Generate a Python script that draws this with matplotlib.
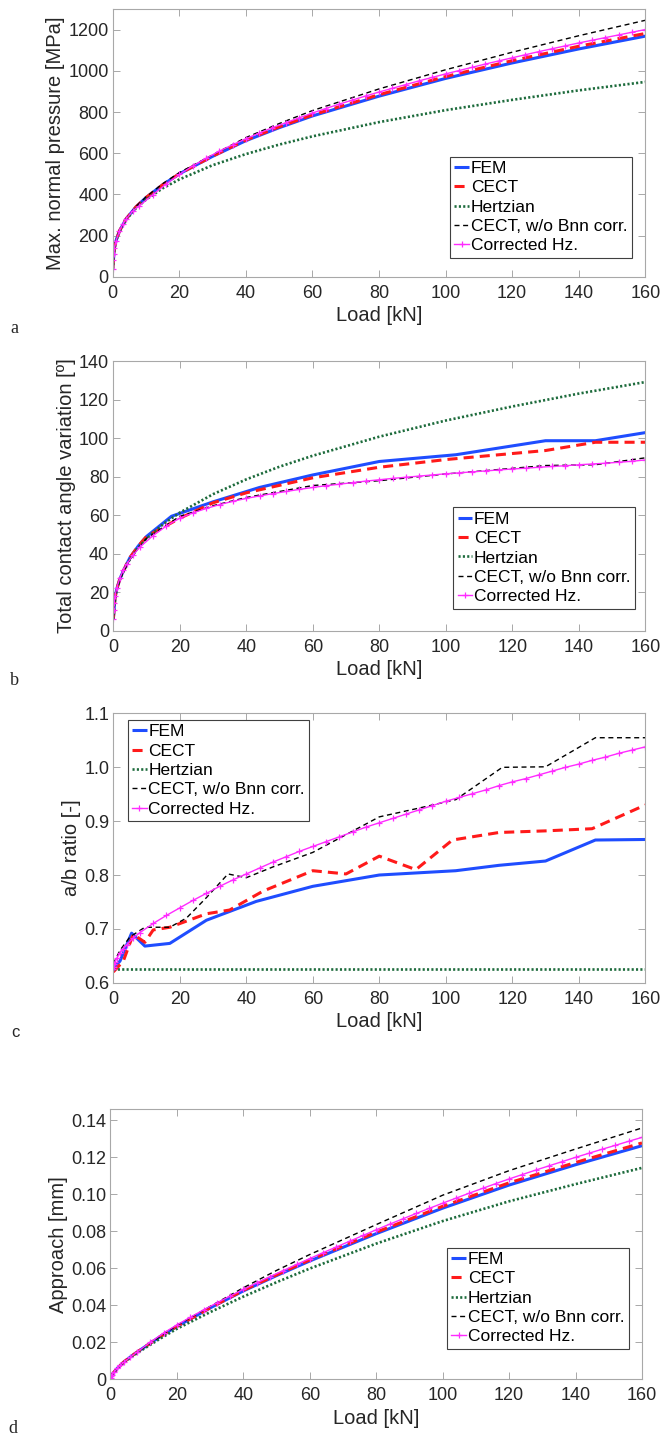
import matplotlib
matplotlib.use("Agg")
import matplotlib.pyplot as plt
from matplotlib.ticker import FixedLocator, FixedFormatter

# ---------------- data ----------------
LABELS = ["FEM", "CECT", "Hertzian", "CECT, w/o Bnn corr.", "Corrected Hz."]

# common coarse load grid (kN) for smooth curves of panels a and d
LOAD = [0.01, 0.5, 1, 2, 4, 7, 10, 15, 20, 30, 40, 50, 60, 80, 100, 120, 140, 160]
# load grid of the "Corrected Hz." series
LOAD_HZ = [0.01, 0.1, 0.25, 0.5, 1, 2, 3, 4, 6, 8, 12, 16, 20, 24, 28, 32, 36, 40,
           44, 48, 52, 56, 60, 64, 68, 72, 76, 80, 84, 88, 92, 96, 100, 104, 108,
           112, 116, 120, 124, 128, 132, 136, 140, 144, 148, 152, 156, 160]

# (a) max normal pressure [MPa]
A_FEM = [40, 140, 176, 222, 281, 340, 385, 447, 500, 585, 661, 724, 781, 877, 963, 1038, 1106, 1168]
A_CECT = [40, 140, 176, 222, 281, 340, 385, 447, 500, 586, 664, 728, 786, 884, 972, 1049, 1119, 1181]
A_HERTZ = [37.5, 138, 174, 220, 277, 334, 375, 430, 473, 542, 596, 642, 682, 751, 809, 859, 905, 946]
A_NOBNN = [40, 140, 176, 222, 282, 342, 388, 452, 506, 592, 676, 744, 807, 912, 1005, 1090, 1170, 1245]
A_CORR = [40, 82, 112, 140, 176, 222, 255, 281, 320, 345, 398, 450, 497, 538, 575, 610, 641, 670,
          698, 724, 748, 772, 795, 817, 838, 858, 878, 897, 915, 933, 951, 968, 985, 1001, 1017,
          1033, 1048, 1063, 1078, 1093, 1107, 1121, 1135, 1148, 1161, 1174, 1187, 1200]

# (b) total contact angle variation [deg]
B_FEM_LOAD = [0.01, 0.5, 1, 2, 3, 5, 7.5, 10, 17.5, 30, 44, 60, 80, 103, 130, 145, 160]
B_FEM = [6, 17, 21.5, 27, 31, 38, 44, 49, 59.5, 67, 74.5, 81, 88, 91.5, 98.8, 98.8, 103]
B_CECT_LOAD = [0.01, 0.5, 1, 2, 3, 5, 7.5, 10, 20, 30, 40, 60, 80, 100, 130, 145, 160]
B_CECT = [6, 17, 21.5, 27, 31, 38, 44, 49, 58.5, 66.5, 71.7, 79.5, 85, 89, 93.7, 98, 98]
B_HERTZ = [6, 16.4, 21.0, 26.9, 34.5, 42.2, 47.9, 55.4, 61.4, 71.0, 78.7, 85.3, 91.0, 100.9,
           109.3, 116.6, 123.3, 129.3]
B_NOBNN_LOAD = [0.01, 0.5, 1, 2, 3, 5, 7.5, 10, 20, 30, 40, 60, 80, 100, 130, 145, 160]
B_NOBNN = [6, 16.5, 21, 26.5, 30.5, 37, 43, 48, 59.5, 65, 69.3, 75.5, 78, 81.5, 85.9, 86.3, 89.9]
B_CORR = [6, 11, 14.5, 18, 22, 27.5, 31.5, 34.5, 39.5, 43.5, 49.5, 54.5, 58.5, 61.3, 63.6, 65.6,
          67.3, 68.8, 70.1, 71.3, 72.4, 73.5, 74.5, 75.4, 76.2, 77.0, 77.8, 78.5, 79.2, 79.8,
          80.4, 81.0, 81.6, 82.1, 82.6, 83.1, 83.6, 84.1, 84.5, 85.0, 85.4, 85.8, 86.3, 86.7,
          87.1, 87.6, 88.1, 88.8]

# (c) a/b ratio [-]
C_FEM_LOAD = [0.01, 2, 5.5, 9.5, 17, 28, 43, 60, 80, 103, 116, 130, 145, 160]
C_FEM = [0.628, 0.64, 0.692, 0.668, 0.673, 0.716, 0.751, 0.779, 0.800, 0.808, 0.818, 0.826, 0.865, 0.866]
C_CECT_LOAD = [0.01, 3, 6, 9.5, 12, 17, 28, 35, 45, 60, 70, 80, 91, 102, 116, 130, 144, 160]
C_CECT = [0.62, 0.64, 0.69, 0.675, 0.698, 0.703, 0.728, 0.735, 0.77, 0.808, 0.802, 0.835, 0.81,
          0.865, 0.879, 0.882, 0.886, 0.93]
C_HERTZ_LOAD = [0.01, 160]
C_HERTZ = [0.625, 0.625]
C_NOBNN_LOAD = [0.01, 2, 5, 9.5, 17, 22, 28, 34.5, 40, 48, 60, 70, 80, 91, 103, 117, 130, 145, 160]
C_NOBNN = [0.635, 0.66, 0.685, 0.703, 0.703, 0.72, 0.758, 0.802, 0.795, 0.815, 0.842, 0.875,
           0.908, 0.923, 0.94, 1.0, 1.001, 1.055, 1.055]
C_CORR = [0.626, 0.630, 0.634, 0.638, 0.645, 0.655, 0.663, 0.670, 0.683, 0.693, 0.710, 0.725,
          0.739, 0.753, 0.766, 0.779, 0.791, 0.802, 0.813, 0.824, 0.834, 0.844, 0.853, 0.862,
          0.871, 0.880, 0.889, 0.897, 0.905, 0.913, 0.921, 0.929, 0.937, 0.944, 0.951, 0.958,
          0.966, 0.973, 0.979, 0.986, 0.993, 1.000, 1.006, 1.013, 1.019, 1.026, 1.032, 1.038]

# (d) approach [mm]
D_FEM = [0.0002, 0.0023, 0.0036, 0.0057, 0.0092, 0.0133, 0.0170, 0.0230, 0.0285, 0.0385, 0.0477,
         0.0560, 0.0639, 0.0787, 0.0925, 0.1050, 0.1160, 0.1263]
D_CECT = [0.0002, 0.0023, 0.0036, 0.0057, 0.0092, 0.0133, 0.0170, 0.0230, 0.0285, 0.0385, 0.0480,
          0.0564, 0.0645, 0.0795, 0.0935, 0.1062, 0.1172, 0.1278]
D_HERTZ = [0.0002, 0.0022, 0.0035, 0.0056, 0.0089, 0.0128, 0.0163, 0.0219, 0.0272, 0.0362, 0.0446,
           0.0524, 0.0598, 0.0733, 0.0855, 0.0962, 0.1055, 0.1143]
D_NOBNN = [0.0002, 0.0023, 0.0036, 0.0057, 0.0092, 0.0133, 0.0170, 0.0231, 0.0290, 0.0393, 0.0494,
           0.0588, 0.0674, 0.0836, 0.0995, 0.1128, 0.1245, 0.1359]
D_CORR = [0.0002, 0.0008, 0.0014, 0.0023, 0.0036, 0.0057, 0.0075, 0.0091, 0.0119, 0.0146, 0.0199,
          0.0249, 0.0293, 0.0334, 0.0374, 0.0412, 0.0449, 0.0485, 0.0520, 0.0554, 0.0587, 0.0620,
          0.0652, 0.0684, 0.0715, 0.0746, 0.0777, 0.0808, 0.0838, 0.0867, 0.0896, 0.0924, 0.0952,
          0.0979, 0.1006, 0.1032, 0.1058, 0.1083, 0.1107, 0.1131, 0.1154, 0.1177, 0.1200, 0.1222,
          0.1244, 0.1265, 0.1287, 0.1308]

X_TICKS = [0, 20, 40, 60, 80, 100, 120, 140, 160]
A_YTICKS = [0, 200, 400, 600, 800, 1000, 1200]
B_YTICKS = [0, 20, 40, 60, 80, 100, 120, 140]
C_YTICKS = [0.6, 0.7, 0.8, 0.9, 1.0, 1.1]
C_YTICKLABELS = ["0.6", "0.7", "0.8", "0.9", "1.0", "1.1"]
D_YTICKS = [0, 0.02, 0.04, 0.06, 0.08, 0.10, 0.12, 0.14]
D_YTICKLABELS = ["0", "0.02", "0.04", "0.06", "0.08", "0.10", "0.12", "0.14"]

# ---------------- style ----------------
plt.rcParams['font.family'] = ['Liberation Sans', 'DejaVu Sans']
TICK_FS = 13
LABEL_FS = 14.5
LEG_FS = 12.5
BLUE = '#1f4dff'
RED = '#ff1a1a'
GREEN = '#1d6b3c'
MAGENTA = '#ff2bff'
TXT = '#262626'
SPINE = '#a8a8a8'

fig = plt.figure(figsize=(6.61, 14.35), dpi=100)


def style_axes(ax, ylim, yticks, yticklabels, ylabel):
    ax.set_xlim(0, 160)
    ax.set_ylim(*ylim)
    ax.xaxis.set_major_locator(FixedLocator(X_TICKS))
    ax.yaxis.set_major_locator(FixedLocator(yticks))
    if yticklabels is not None:
        ax.yaxis.set_major_formatter(FixedFormatter(yticklabels))
    ax.tick_params(axis='both', which='both', direction='in', length=5, width=0.7,
                   color=SPINE, labelcolor=TXT, labelsize=TICK_FS,
                   top=True, right=True)
    ax.tick_params(axis='x', pad=6)
    ax.tick_params(axis='y', pad=3)
    for s in ax.spines.values():
        s.set_color(SPINE)
        s.set_linewidth(0.8)
    ax.set_xlabel("Load [kN]", fontsize=LABEL_FS, color=TXT, labelpad=3)
    ax.set_ylabel(ylabel, fontsize=LABEL_FS, color=TXT, labelpad=2)


def draw(ax, series):
    (lf, f), (lc, c), (lh, h), (ln, n), (lz, z) = series
    ax.plot(lf, f, color=BLUE, lw=2.2, solid_capstyle='butt', label=LABELS[0])
    ax.plot(lc, c, color=RED, lw=2.2, ls=(0, (3.3, 2.0)), label=LABELS[1])
    ax.plot(lh, h, color=GREEN, lw=1.9, ls=(0, (0.8, 0.85)), label=LABELS[2])
    ax.plot(ln, n, color='black', lw=1.0, ls=(0, (3.6, 2.6)), label=LABELS[3])
    ax.plot(lz, z, color=MAGENTA, lw=1.0, marker='+', ms=5, mew=0.9, label=LABELS[4])


def legend(ax, x, y):
    leg = ax.legend(loc='upper left', bbox_to_anchor=(x, y), borderaxespad=0,
                    fontsize=LEG_FS, handlelength=0.85, handletextpad=0.1,
                    borderpad=0.25, labelspacing=0.24, fancybox=False,
                    framealpha=1, edgecolor='#404040', markerscale=0.9)
    leg.get_frame().set_linewidth(0.8)
    for t in leg.get_texts():
        t.set_color('black')
    return leg


# (a)
axa = fig.add_axes([0.1705, 0.8070, 0.8057, 0.18676])
draw(axa, [(LOAD, A_FEM), (LOAD, A_CECT), (LOAD, A_HERTZ), (LOAD, A_NOBNN), (LOAD_HZ, A_CORR)])
style_axes(axa, (0, 1300), A_YTICKS, None, "Max. normal pressure [MPa]")
legend(axa, 0.633, 0.449)

# (b)
axb = fig.add_axes([0.1714, 0.56049, 0.8048, 0.18760])
draw(axb, [(B_FEM_LOAD, B_FEM), (B_CECT_LOAD, B_CECT), (LOAD, B_HERTZ),
           (B_NOBNN_LOAD, B_NOBNN), (LOAD_HZ, B_CORR)])
style_axes(axb, (0, 140), B_YTICKS, None, "Total contact angle variation [º]")
legend(axb, 0.639, 0.458)

# (c)
axc = fig.add_axes([0.1714, 0.31519, 0.8048, 0.18760])
draw(axc, [(C_FEM_LOAD, C_FEM), (C_CECT_LOAD, C_CECT), (C_HERTZ_LOAD, C_HERTZ),
           (C_NOBNN_LOAD, C_NOBNN), (LOAD_HZ, C_CORR)])
style_axes(axc, (0.6, 1.1), C_YTICKS, C_YTICKLABELS, "a/b ratio [-]")
legend(axc, 0.027, 0.976)

# (d)
axd = fig.add_axes([0.16717, 0.03902, 0.80408, 0.18794])
draw(axd, [(LOAD, D_FEM), (LOAD, D_CECT), (LOAD, D_HERTZ), (LOAD, D_NOBNN), (LOAD_HZ, D_CORR)])
style_axes(axd, (0, 0.146), D_YTICKS, D_YTICKLABELS, "Approach [mm]")
legend(axd, 0.633, 0.487)

# panel letters
SERIF = ['Liberation Serif', 'DejaVu Serif']
fig.text(10 / 661, 1 - 333 / 1435, "a", fontsize=13, family=SERIF, color=TXT)
fig.text(10 / 661, 1 - 685 / 1435, "b", fontsize=13, family=SERIF, color=TXT)
fig.text(11 / 661, 1 - 1037 / 1435, "c", fontsize=12, color=TXT)
fig.text(8 / 661, 1 - 1433 / 1435, "d", fontsize=13, family=SERIF, color=TXT)

fig.savefig("out.png", dpi=100)
